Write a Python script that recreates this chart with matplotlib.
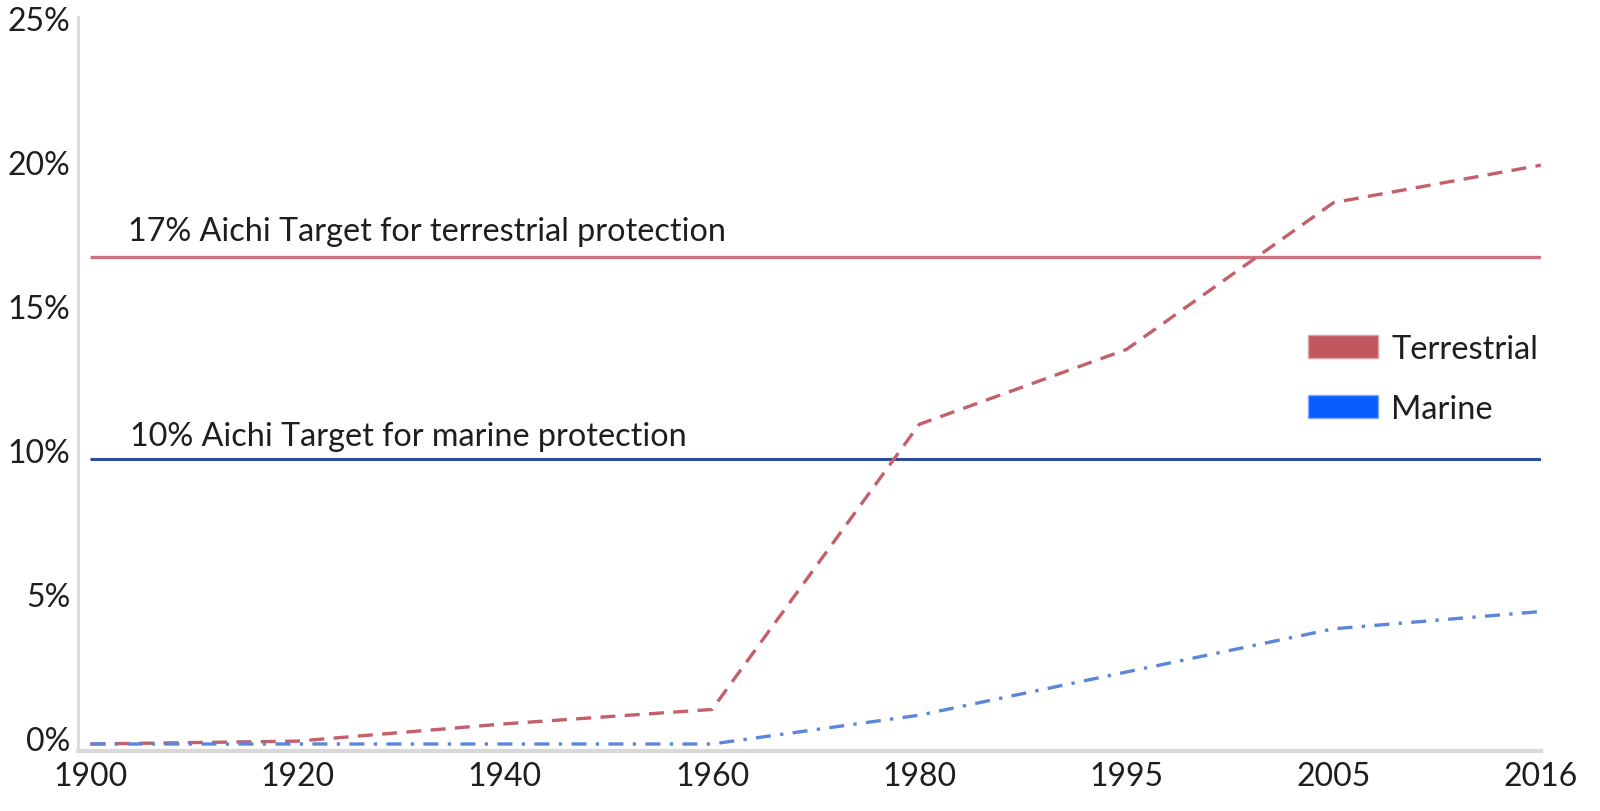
import matplotlib.pyplot as plt
import matplotlib.transforms as mtransforms
from matplotlib.patches import Patch

# data
years = ['1900', '1920', '1940', '1960', '1980', '1995', '2005', '2016']
terrestrial = [0.1, 0.2, 0.8, 1.3, 11.2, 13.8, 18.9, 20.2]
marine = [0.1, 0.1, 0.1, 0.1, 1.1, 2.6, 4.1, 4.7]
yticks = [0, 5, 10, 15, 20, 25]
terr_target = 17
marine_target = 10

plt.rcParams['font.family'] = ['Lato', 'DejaVu Sans']

fig = plt.figure(figsize=(16, 8.12), dpi=100)
ax = fig.add_axes([0.049, 0.074, 0.914, 0.904])

x = list(range(len(years)))

# target lines
ax.plot([x[0], x[-1]], [terr_target, terr_target], color='#cc727c', lw=2.4, solid_capstyle='butt')
ax.plot([x[0], x[-1]], [marine_target, marine_target], color='#2e4c9c', lw=2.2, solid_capstyle='butt')

# series
ax.plot(x, terrestrial, color='#c4606a', lw=2.4, dashes=(4.5, 2.8))
ax.plot(x, marine, color='#5b86da', lw=2.4, dashes=(4.5, 2.8, 1, 2.8))

ax.text(0.18, 17.6, '17% Aichi Target for terrestrial protection', fontsize=23.3, color='#1e1e1e')
ax.text(0.19, 10.5, '10% Aichi Target for marine protection', fontsize=23.3, color='#1e1e1e')

ax.set_xlim(-0.058, 7.0)
ax.set_ylim(-0.14, 25.35)
ax.set_xticks(x)
ax.set_xticklabels(years)
ax.set_yticks(yticks)
ax.set_yticklabels([f'{v}%' for v in yticks])
ax.tick_params(length=0, labelsize=23, colors='#1e1e1e')
ax.tick_params(axis='y', pad=6)
ax.tick_params(axis='x', pad=7)
shift = mtransforms.ScaledTranslation(0, 0.06, fig.dpi_scale_trans)
for lbl in ax.get_yticklabels():
    lbl.set_verticalalignment('center')
    lbl.set_transform(lbl.get_transform() + shift)

for s in ['top', 'right']:
    ax.spines[s].set_visible(False)
ax.spines['left'].set_color('#d9d9d9')
ax.spines['left'].set_linewidth(2)
ax.spines['bottom'].set_color('#d9d9d9')
ax.spines['bottom'].set_linewidth(3)

handles = [Patch(facecolor='#c0575e', edgecolor='#e0a0a4', label='Terrestrial'),
           Patch(facecolor='#0a5cff', edgecolor='#80aaff', label='Marine')]
ax.legend(handles=handles, loc='upper left', bbox_to_anchor=(0.832, 0.586), frameon=False,
          fontsize=23.5, handlelength=2.15, handleheight=0.7, labelspacing=0.93, handletextpad=0.4,
          labelcolor='#1e1e1e', borderaxespad=0)

fig.savefig('out.png', dpi=100)
